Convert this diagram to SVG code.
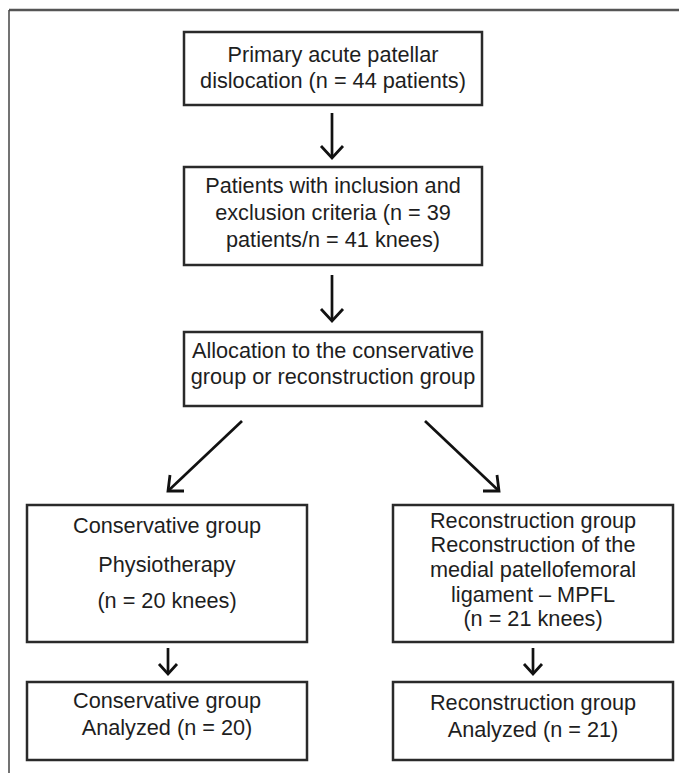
<svg xmlns="http://www.w3.org/2000/svg" width="679" height="773" viewBox="0 0 679 773">
<style>
.box{fill:#fff;stroke:#2a2a2a;stroke-width:2.5}
.t{font-family:"Liberation Sans",Arial,sans-serif;font-size:21.7px;fill:#1e1e1e;text-anchor:middle}
.c{fill:none;stroke:#111;stroke-width:2.7}
.h{fill:none;stroke:#111;stroke-width:2.8;stroke-linejoin:miter}
</style>
<rect width="679" height="773" fill="#fff"/>
<g id="frame">
<line x1="9" y1="10" x2="679" y2="10" stroke="#555" stroke-width="2.5"/>
<line x1="9" y1="10" x2="9" y2="773" stroke="#444" stroke-width="1.5"/>
</g>
<g id="n1">
<rect class="box" x="184" y="32" width="298" height="73"/>
<text class="t" x="333" y="62">Primary acute patellar</text>
<text class="t" x="333" y="88">dislocation (n = 44 patients)</text>
</g>
<g id="n2">
<rect class="box" x="184" y="167" width="298" height="98"/>
<text class="t" x="333" y="193">Patients with inclusion and</text>
<text class="t" x="333" y="220">exclusion criteria (n = 39</text>
<text class="t" x="333" y="247">patients/n = 41 knees)</text>
</g>
<g id="n3">
<rect class="box" x="184" y="332" width="298" height="74"/>
<text class="t" x="333" y="358">Allocation to the conservative</text>
<text class="t" x="333" y="384">group or reconstruction group</text>
</g>
<g id="n4">
<rect class="box" x="27" y="505" width="280" height="137"/>
<text class="t" x="167" y="533">Conservative group</text>
<text class="t" x="167" y="572">Physiotherapy</text>
<text class="t" x="167" y="608">(n = 20 knees)</text>
</g>
<g id="n5">
<rect class="box" x="393" y="505" width="280" height="137"/>
<text class="t" x="533" y="528">Reconstruction group</text>
<text class="t" x="533" y="552">Reconstruction of the</text>
<text class="t" x="533" y="577">medial patellofemoral</text>
<text class="t" x="533" y="602">ligament – MPFL</text>
<text class="t" x="533" y="626">(n = 21 knees)</text>
</g>
<g id="n6">
<rect class="box" x="27" y="682" width="280" height="78"/>
<text class="t" x="167" y="708">Conservative group</text>
<text class="t" x="167" y="735">Analyzed (n = 20)</text>
</g>
<g id="n7">
<rect class="box" x="393" y="682" width="280" height="78"/>
<text class="t" x="533" y="710">Reconstruction group</text>
<text class="t" x="533" y="737">Analyzed (n = 21)</text>
</g>
<g id="connectors">
<line class="c" x1="332" y1="113" x2="332" y2="158"/>
<polyline class="h" points="321,146 332,158 343,146"/>
<line class="c" x1="332" y1="275" x2="332" y2="321"/>
<polyline class="h" points="321,309 332,321 343,309"/>
<line class="c" x1="242" y1="421" x2="168" y2="491"/>
<polyline class="h" points="170,475 168,491 184,491"/>
<line class="c" x1="425" y1="421" x2="499" y2="491"/>
<polyline class="h" points="483,491 499,491 497,475"/>
<line class="c" x1="168" y1="648" x2="168" y2="674"/>
<polyline class="h" points="159,664 168,674 177,664"/>
<line class="c" x1="533" y1="648" x2="533" y2="674"/>
<polyline class="h" points="524,664 533,674 542,664"/>
</g>
</svg>
